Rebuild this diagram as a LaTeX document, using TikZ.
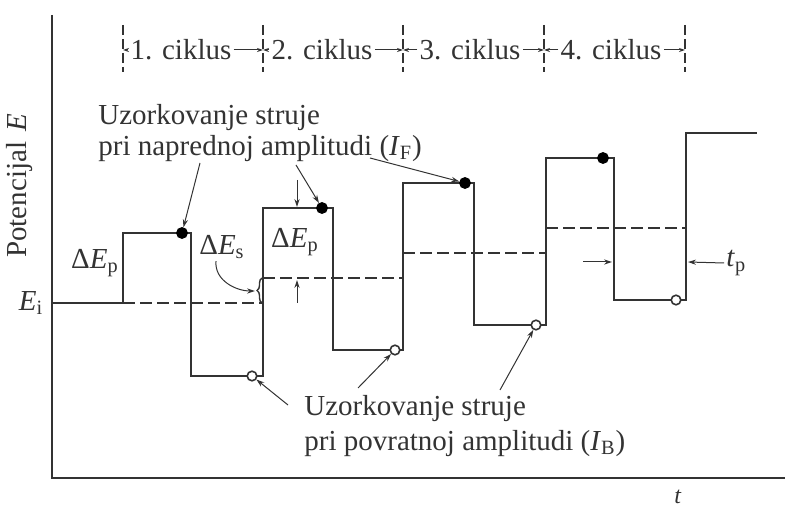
\documentclass[tikz,border=0pt]{standalone}
\usepackage{fontspec}
\setmainfont{Liberation Serif}
\usepackage{xcolor}
\usetikzlibrary{arrows.meta, decorations.pathreplacing}
\definecolor{inkgray}{gray}{0.2}
\tikzset{
    txt/.style={font=\fontsize{14.5}{15.5}\selectfont, text=inkgray, inner sep=1pt},
    wave/.style={line width=1.3pt, color=inkgray, line join=miter},
    stairline/.style={line width=1pt, color=inkgray, dash pattern=on 6pt off 2.5pt},
    cycmark/.style={line width=0.9pt, color=inkgray, dash pattern=on 5pt off 2pt},
    axisline/.style={line width=1pt, color=inkgray},
    pointer/.style={line width=0.5pt, color=inkgray, -{Stealth[length=4pt, width=2.6pt]}},
    cycarrow/.style={line width=0.5pt, color=inkgray, -{Stealth[length=3pt, width=2pt]}},
    fdot/.style={circle, fill=black, draw=black, inner sep=0pt, minimum size=5.5pt},
    bdot/.style={circle, fill=white, draw=inkgray, line width=0.8pt, inner sep=0pt, minimum size=4.8pt}
}

\begin{document}
\begin{tikzpicture}[x=0.5pt, y=-0.5pt]
    \useasboundingbox (0,0) rectangle (785,506);

    % axes
    \draw [axisline] (52,15) -- (52,478) -- (785,478);
    \node (ylab) [txt, rotate=90] at (20,186) {Potencijal\hspace{0.35em}\textit{E}};
    \node (xlab) [txt, font=\fontsize{12}{12}\selectfont] at (678,497) {\textit{t}};
    \node (ei) [txt] at (31,303) {\textit{E}\textsubscript{i}};

    % cycles
    \draw [cycmark] (123,25) -- (123,72);
    \draw [cycmark] (263,25) -- (263,72);
    \draw [cycmark] (403,25) -- (403,72);
    \draw [cycmark] (544,25) -- (544,72);
    \draw [cycmark] (685,25) -- (685,72);
    \coordinate (m1) at (123,50);
    \coordinate (m2) at (263,50);
    \coordinate (m3) at (403,50);
    \coordinate (m4) at (544,50);
    \coordinate (m5) at (685,50);
    \node (cyc1) [txt] at (181,50) {1. ciklus};
    \node (cyc2) [txt] at (322,50) {2. ciklus};
    \node (cyc3) [txt] at (470,50) {3. ciklus};
    \node (cyc4) [txt] at (611,50) {4. ciklus};
    \draw [cycarrow] (cyc1) -- (m1);
    \draw [cycarrow] (cyc1) -- (m2);
    \draw [cycarrow] (cyc2) -- (m2);
    \draw [cycarrow] (cyc2) -- (m3);
    \draw [cycarrow] (cyc3) -- (m3);
    \draw [cycarrow] (cyc3) -- (m4);
    \draw [cycarrow] (cyc4) -- (m4);
    \draw [cycarrow] (cyc4) -- (m5);

    % staircase
    \draw [stairline] (123,303) -- (263,303);
    \draw [stairline] (263,278) -- (403,278);
    \draw [stairline] (403,253) -- (546,253);
    \draw [stairline] (546,228) -- (686,228);

    % square wave
    \draw [wave] (52,303) -- (123,303) -- (123,233) -- (191,233) -- (191,376) -- (263,376)
        -- (263,208) -- (333,208) -- (333,350) -- (403,350) -- (403,183) -- (474,183)
        -- (474,325) -- (546,325) -- (546,158) -- (614,158) -- (614,300) -- (686,300)
        -- (686,133) -- (757,133);

    % sampling points
    \node (dotF1) [fdot] at (182,233) {};
    \node (dotF2) [fdot] at (322,208) {};
    \node (dotF3) [fdot] at (465,183) {};
    \node (dotF4) [fdot] at (603,158) {};
    \node (dotB1) [bdot] at (252,376) {};
    \node (dotB2) [bdot] at (395,350) {};
    \node (dotB3) [bdot] at (536,325) {};
    \node (dotB4) [bdot] at (676,300) {};

    % forward note
    \node (noteF) [txt, align=left, anchor=west] at (96,133) {Uzorkovanje struje\\pri naprednoj amplitudi (\textit{I}\textsubscript{F})};
    \coordinate (nf1) at (200,163);
    \coordinate (nf2) at (296,165);
    \coordinate (nf3) at (370,158);
    \draw [pointer] (nf1) -- (dotF1);
    \draw [pointer] (nf2) -- (dotF2);
    \draw [pointer] (nf3) -- (dotF3);

    % backward note
    \node (noteB) [txt, font=\fontsize{14.5}{17.5}\selectfont, align=left, anchor=west] at (302,426) {Uzorkovanje struje\\pri povratnoj amplitudi (\textit{I}\textsubscript{B})};
    \coordinate (nb1) at (288,405);
    \coordinate (nb2) at (358,388);
    \coordinate (nb3) at (500,390);
    \draw [pointer] (nb1) -- (dotB1);
    \draw [pointer] (nb2) -- (dotB2);
    \draw [pointer] (nb3) -- (dotB3);

    % step heights
    \node (dep1) [txt] at (95,263) {Δ\textit{E}\textsubscript{p}};
    \node (dep2) [txt] at (295,242) {Δ\textit{E}\textsubscript{p}};
    \coordinate (pa1) at (297,180);
    \coordinate (pa2) at (297,207);
    \coordinate (pb1) at (297,303);
    \coordinate (pb2) at (297,280);
    \draw [pointer] (pa1) -- (pa2);
    \draw [pointer] (pb1) -- (pb2);
    \node (des) [txt] at (222,247) {Δ\textit{E}\textsubscript{s}};
    \draw [line width=0.7pt, color=inkgray, decorate, decoration={brace, amplitude=2.5pt}] (262,303) -- (262,278);
    \coordinate (bracetip) at (255,291);
    \draw [pointer] ([xshift=-3pt]des.south) to[out=-95, in=180] (bracetip);

    % pulse width
    \coordinate (tpl1) at (583,262);
    \coordinate (tpl2) at (612,262);
    \coordinate (tpr) at (688,262);
    \node (tp) [txt, anchor=west] at (724,263) {\textit{t}\textsubscript{p}};
    \draw [pointer] (tpl1) -- (tpl2);
    \draw [pointer] (tp.west) -- (tpr);
\end{tikzpicture}
\end{document}
